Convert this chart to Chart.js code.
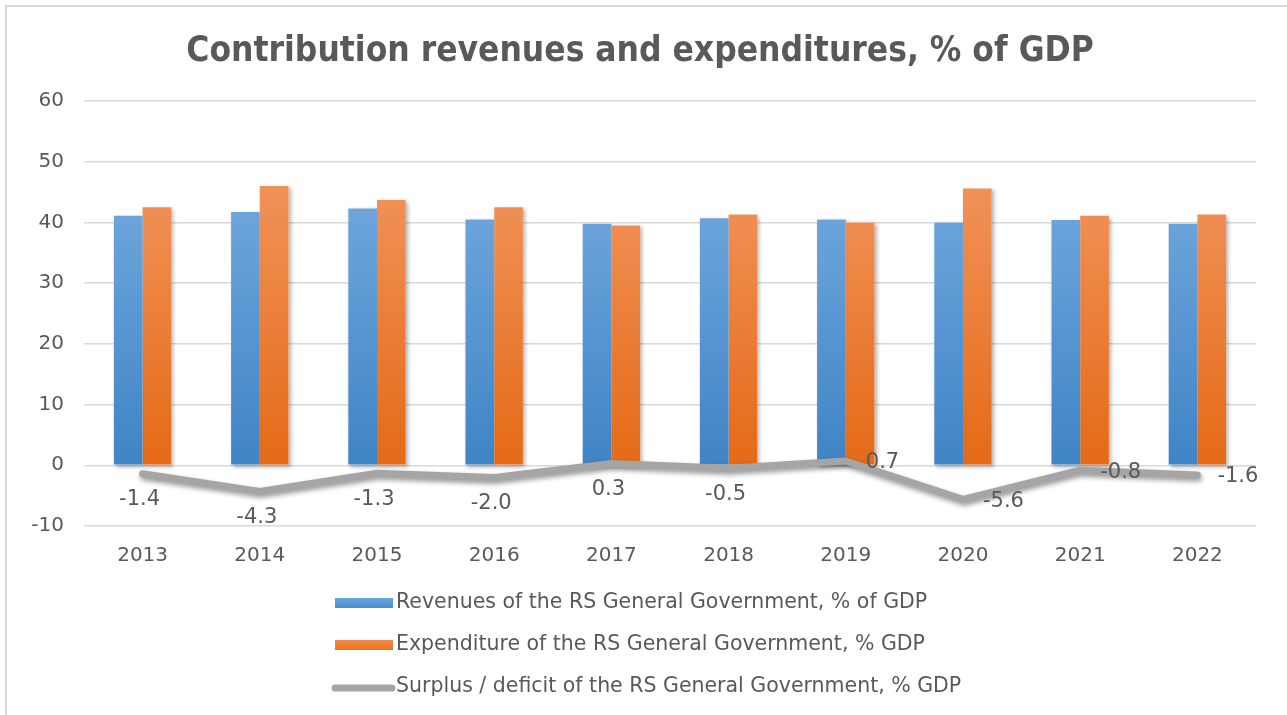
<!DOCTYPE html>
<html>
<head>
<meta charset="utf-8">
<title>Contribution revenues and expenditures, % of GDP</title>
<script src="https://cdn.jsdelivr.net/npm/chart.js@4.4.1/dist/chart.umd.min.js"></script>
<style>
  html, body { margin: 0; padding: 0; background: #ffffff; }
  canvas { display: block; }
</style>
</head>
<body>
<canvas id="chart" width="1287" height="715"></canvas>
<script>
// ---- data ---------------------------------------------------------------
const years = ['2013', '2014', '2015', '2016', '2017', '2018', '2019', '2020', '2021', '2022'];
const revenues = [41.1, 41.7, 42.3, 40.5, 39.8, 40.7, 40.5, 40.0, 40.4, 39.8];
const expenditures = [42.5, 46.0, 43.7, 42.5, 39.5, 41.3, 40.0, 45.6, 41.1, 41.3];
const balance = [-1.4, -4.3, -1.3, -2.0, 0.3, -0.5, 0.7, -5.6, -0.8, -1.6];
const balanceLabelSide = ['below', 'below', 'below', 'below', 'below', 'below', 'right', 'right', 'right', 'right'];
const yTicks = [-10, 0, 10, 20, 30, 40, 50, 60];
const seriesNames = [
  'Revenues of the RS General Government, % of GDP',
  'Expenditure of the RS General Government, % GDP',
  'Surplus / deficit of the RS General Government, % GDP'
];
const chartTitle = 'Contribution revenues and expenditures, % of GDP';

// ---- styling helpers ----------------------------------------------------
const TEXT = '#595959';
const GRID = '#D9D9D9';
const FONT = '"DejaVu Sans", "Noto Sans", sans-serif';

function barGradient(context, top, bottom) {
  const chart = context.chart;
  const { chartArea, scales } = chart;
  if (!chartArea || !scales.y) return bottom;
  const y0 = scales.y.getPixelForValue(46);
  const y1 = scales.y.getPixelForValue(0);
  const g = chart.ctx.createLinearGradient(0, y0, 0, y1);
  g.addColorStop(0, top);
  g.addColorStop(1, bottom);
  return g;
}

// bar shadows are laid down first so that every bar sits on top of them
const barShadows = {
  id: 'barShadows',
  beforeDatasetsDraw(chart) {
    const ctx = chart.ctx;
    const area = chart.chartArea;
    ctx.save();
    ctx.beginPath();
    ctx.rect(area.left, area.top, area.width, area.height + 10);
    ctx.clip();
    ctx.shadowColor = 'rgba(0,0,0,0.30)';
    ctx.shadowBlur = 4;
    ctx.shadowOffsetX = 2;
    ctx.shadowOffsetY = 2;
    ctx.fillStyle = '#ffffff';
    chart.data.datasets.forEach((ds, i) => {
      if (ds.type !== 'bar') return;
      chart.getDatasetMeta(i).data.forEach(el => {
        const { x, y, base, width } = el.getProps(['x', 'y', 'base', 'width'], true);
        ctx.fillRect(x - width / 2, Math.min(y, base), width, Math.abs(base - y));
      });
    });
    ctx.restore();
  }
};

// soft drop shadow under the surplus / deficit line
const lineShadow = {
  id: 'lineShadow',
  beforeDatasetDraw(chart, args) {
    const ctx = chart.ctx;
    ctx.save();
    if (args.meta.type === 'line') {
      ctx.shadowColor = 'rgba(0,0,0,0.40)';
      ctx.shadowBlur = 5;
      ctx.shadowOffsetX = 1;
      ctx.shadowOffsetY = 3;
    }
  },
  afterDatasetDraw(chart) {
    chart.ctx.restore();
  }
};

// value labels on the surplus / deficit line
const balanceLabels = {
  id: 'balanceLabels',
  afterDatasetsDraw(chart) {
    const ctx = chart.ctx;
    const idx = chart.data.datasets.findIndex(d => d.type === 'line');
    const meta = chart.getDatasetMeta(idx);
    const values = chart.data.datasets[idx].data;
    ctx.save();
    ctx.font = '21px ' + FONT;
    ctx.fillStyle = TEXT;
    ctx.textBaseline = 'middle';
    meta.data.forEach((pt, i) => {
      const text = values[i].toFixed(1);
      if (balanceLabelSide[i] === 'right') {
        ctx.textAlign = 'left';
        ctx.fillText(text, pt.x + 20, pt.y + 2);
      } else {
        ctx.textAlign = 'center';
        ctx.fillText(text, pt.x - 3, pt.y + 26);
      }
    });
    ctx.restore();
  }
};

// legend stacked in a single column under the axis
const columnLegend = {
  id: 'columnLegend',
  afterDraw(chart) {
    const ctx = chart.ctx;
    const left = 335, textX = 396;
    const rows = [603, 645, 687];
    ctx.save();
    ctx.font = '20.5px ' + FONT;
    ctx.textBaseline = 'middle';
    ctx.textAlign = 'left';
    chart.data.datasets.forEach((ds, i) => {
      const y = rows[i];
      if (ds.type === 'line') {
        ctx.strokeStyle = ds.borderColor;
        ctx.lineWidth = 7;
        ctx.lineCap = 'round';
        ctx.beginPath();
        ctx.moveTo(left, y + 1);
        ctx.lineTo(textX - 4, y + 1);
        ctx.stroke();
      } else {
        const g = ctx.createLinearGradient(0, y - 5, 0, y + 5);
        g.addColorStop(0, ds.swatch[0]);
        g.addColorStop(1, ds.swatch[1]);
        ctx.fillStyle = g;
        ctx.fillRect(left, y - 5, textX - left - 3, 10);
      }
      ctx.fillStyle = TEXT;
      ctx.fillText(ds.label, textX, y);
    });
    ctx.restore();
  }
};

// thin frame along the top and left edges
const framePlugin = {
  id: 'frame',
  beforeDraw(chart) {
    const ctx = chart.ctx;
    ctx.save();
    ctx.fillStyle = '#ffffff';
    ctx.fillRect(0, 0, chart.width, chart.height);
    ctx.fillStyle = GRID;
    ctx.fillRect(5, 5, chart.width - 5, 2);
    ctx.fillRect(5, 5, 2, chart.height - 5);
    ctx.restore();
  }
};

new Chart(document.getElementById('chart'), {
  data: {
    labels: years,
    datasets: [
      {
        type: 'bar',
        label: seriesNames[0],
        data: revenues,
        order: 2,
        backgroundColor: c => barGradient(c, '#71A8DE', '#3F84C5'),
        swatch: ['#6CA4DB', '#4A8ECD'],
        categoryPercentage: 0.49,
        barPercentage: 1.0
      },
      {
        type: 'bar',
        label: seriesNames[1],
        data: expenditures,
        order: 2,
        backgroundColor: c => barGradient(c, '#F19259', '#E46A16'),
        swatch: ['#F28B48', '#E8731F'],
        categoryPercentage: 0.49,
        barPercentage: 1.0
      },
      {
        type: 'line',
        label: seriesNames[2],
        data: balance,
        order: 1,
        borderColor: '#A5A5A5',
        borderWidth: 7,
        borderCapStyle: 'round',
        borderJoinStyle: 'round',
        pointRadius: 0,
        tension: 0,
        fill: false
      }
    ]
  },
  options: {
    responsive: false,
    animation: false,
    devicePixelRatio: 1,
    layout: { padding: { top: 10, left: 24, right: 31, bottom: 129 } },
    plugins: {
      legend: { display: false },
      tooltip: { enabled: false },
      title: {
        display: true,
        text: chartTitle,
        color: TEXT,
        font: { family: '"DejaVu Sans Condensed", "DejaVu Sans", sans-serif', size: 35, weight: 'bold' },
        padding: { top: 21, bottom: 28 }
      }
    },
    scales: {
      x: {
        grid: { display: false, drawTicks: false },
        border: { display: false },
        ticks: { color: TEXT, font: { family: FONT, size: 20 }, padding: 18 }
      },
      y: {
        min: yTicks[0],
        max: yTicks[yTicks.length - 1],
        afterBuildTicks: axis => { axis.ticks = yTicks.map(v => ({ value: v })); },
        afterFit: axis => { axis.width = 60; },
        grid: { color: GRID, lineWidth: 1.5, drawTicks: false },
        border: { display: false },
        ticks: { color: TEXT, font: { family: FONT, size: 20 }, padding: 20 }
      }
    }
  },
  plugins: [framePlugin, barShadows, lineShadow, balanceLabels, columnLegend]
});
</script>
</body>
</html>
